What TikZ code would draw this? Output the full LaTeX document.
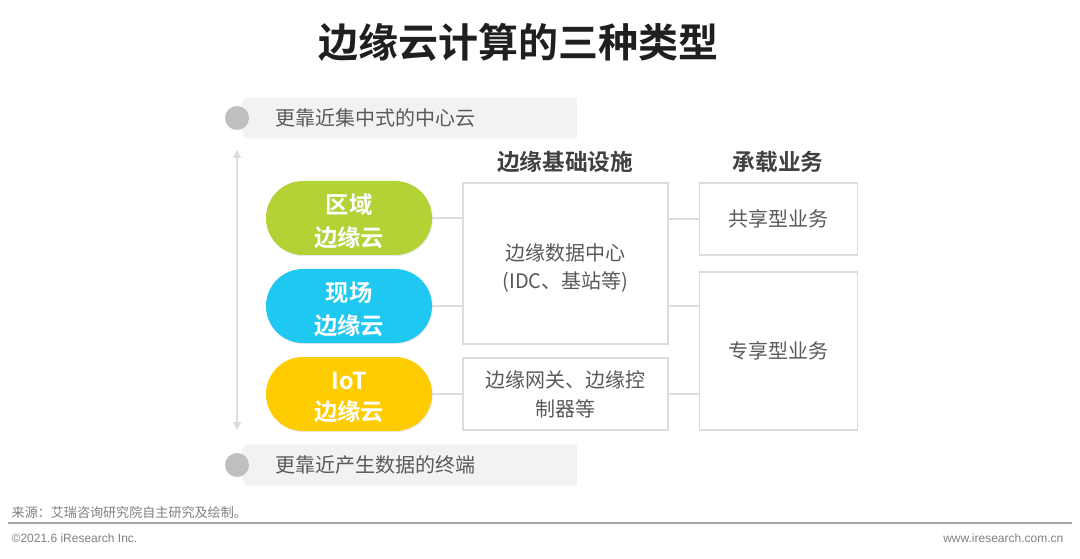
\documentclass[tikz,border=0pt]{standalone}
\usepackage{fontspec}
\setmainfont{Noto Sans CJK SC}[BoldFont={Noto Sans CJK SC Bold}]
\newfontfamily\latinsf{Liberation Sans}
\usetikzlibrary{arrows.meta,positioning,shapes.misc,shapes.symbols,shadows}
\definecolor{IrGreen}{HTML}{B2D235}
\definecolor{IrBlue}{HTML}{1EC8F0}
\definecolor{IrYellow}{HTML}{FFCC00}
\definecolor{IrBar}{HTML}{F2F2F2}
\definecolor{IrDot}{HTML}{BFBFBF}
\definecolor{IrLine}{HTML}{DCDCDC}
\definecolor{IrText}{HTML}{595959}
\definecolor{IrHead}{HTML}{404040}
\definecolor{IrTitle}{HTML}{1F1F1F}
\definecolor{IrFoot}{HTML}{7F7F7F}
\newcommand{\lowered}[2]{\raisebox{-#1}[\height][\depth]{#2}}

\begin{document}
\begin{tikzpicture}[x=0.75pt,y=-0.75pt,
    pill/.style={rounded rectangle,minimum width=124.5pt,minimum height=55.5pt,inner sep=0pt,align=center,text=white,
      font=\bfseries\fontsize{17.5}{25}\selectfont,drop shadow={opacity=0.18,shadow xshift=0.6pt,shadow yshift=-0.8pt}},
    infobox/.style={rectangle,draw=IrLine,line width=1.1pt,fill=white,inner sep=0pt,align=center,text=IrText,
      font=\fontsize{15}{21.75}\selectfont,drop shadow={opacity=0.12,shadow xshift=0.6pt,shadow yshift=-0.6pt}},
    bar/.style={signal,signal to=west,signal pointer angle=130,fill=IrBar,draw=none,minimum width=256pt,minimum height=30.75pt,inner sep=0pt},
    bartext/.style={anchor=west,inner sep=0pt,text=IrText,font=\fontsize{15}{18}\selectfont},
    dot/.style={circle,fill=IrDot,minimum size=18pt,inner sep=0pt},
    head/.style={text=IrHead,font=\bfseries\fontsize{17}{20}\selectfont},
    link/.style={IrLine,line width=1.1pt},
    axis/.style={IrLine,line width=1.1pt,{Triangle[width=6pt,length=6pt]}-{Triangle[width=6pt,length=6pt]}}
  ]
    \useasboundingbox (0,0) rectangle (1080,559);

    % title
    \node[text=IrTitle,font=\bfseries\fontsize{30}{34}\selectfont] (title) at (518,42) {边缘云计算的三种类型};

    % top and bottom banners
    \node[bar] (topbar) at (411,118) {};
    \node[dot] (topdot) at (237,118) {};
    \node[bartext] (toptext) at (275,118) {更靠近集中式的中心云};
    \node[bar] (botbar) at (411,465) {};
    \node[dot] (botdot) at (237,465) {};
    \node[bartext] (bottext) at (275,465) {更靠近产生数据的终端};

    % axis
    \coordinate (axtop) at (237,150);
    \coordinate (axbot) at (237,430);
    \draw[axis] (axtop) -- (axbot);

    % three kinds of edge cloud
    \node[pill,fill=IrGreen] (region) at (349,218) {\lowered{2.5pt}{\shortstack{区域\\[5pt]边缘云}}};
    \node[pill,fill=IrBlue] (site) at (349,306) {\lowered{2.5pt}{\shortstack{现场\\[5pt]边缘云}}};
    \node[pill,fill=IrYellow] (iot) at (349,394) {\lowered{2.5pt}{\shortstack{IoT\\[5pt]边缘云}}};

    % infrastructure and services
    \node[infobox,minimum width=153.75pt,minimum height=120.75pt] (dc) at (565.5,263.5) {\lowered{3.5pt}{\shortstack{边缘数据中心\\[4pt](IDC、基站等)}}};
    \node[infobox,minimum width=153.75pt,minimum height=54pt] (gw) at (565.5,394) {边缘网关、边缘控\\制器等};
    \node[infobox,minimum width=118.5pt,minimum height=54pt] (share) at (778.5,219) {共享型业务};
    \node[infobox,minimum width=118.5pt,minimum height=118.5pt] (excl) at (778.5,351) {专享型业务};

    \node[head] (hinfra) at (565,162) {边缘基础设施};
    \node[head] (hserv) at (778,162) {承载业务};

    % links
    \draw[link] (region.east) -- (region.east -| dc.west);
    \draw[link] (site.east) -- (site.east -| dc.west);
    \draw[link] (iot.east) -- (iot.east -| gw.west);
    \draw[link] (share.west -| dc.east) -- (share.west);
    \draw[link] (dc.east |- site.east) -- (excl.west |- site.east);
    \draw[link] (gw.east) -- (gw.east -| excl.west);

    % footer
    \node[anchor=west,text=IrFoot,font=\fontsize{9.8}{11}\selectfont] (source) at (7,513) {来源：艾瑞咨询研究院自主研究及绘制。};
    \coordinate (rulel) at (8,523);
    \coordinate (ruler) at (1072,523);
    \draw[IrFoot!70,line width=1.4pt] (rulel) -- (ruler);
    \node[anchor=west,text=IrFoot,font=\latinsf\fontsize{9}{11}\selectfont] (copy) at (7,538) {©2021.6 iResearch Inc.};
    \node[anchor=east,text=IrFoot,font=\latinsf\fontsize{9}{11}\selectfont] (web) at (1068,538) {www.iresearch.com.cn};
  \end{tikzpicture}
\end{document}
